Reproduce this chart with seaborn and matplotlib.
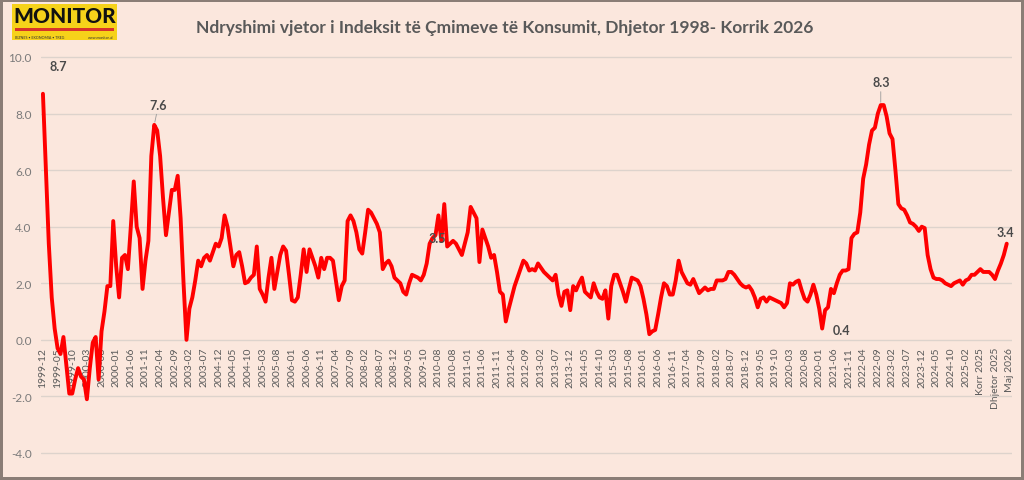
import numpy as np
import pandas as pd
import matplotlib
matplotlib.use("Agg")
import matplotlib.pyplot as plt
import seaborn as sns
from matplotlib.patches import Rectangle
from matplotlib.ticker import FormatStrFormatter

# ndryshimi vjetor i IÇK, mujor (dhjetor 1998 ->)
inflacioni = [
    8.7, 6.0, 3.4, 1.5, 0.4, -0.3, -0.5, 0.1, -0.9, -1.9,
    -1.9, -1.4, -1.0, -1.3, -1.4, -2.1, -1.0, -0.1, 0.1, -1.4,
    0.3, 1.0, 1.9, 1.9, 4.2, 2.6, 1.5, 2.9, 3.0, 2.5,
    4.0, 5.6, 4.0, 3.6, 1.8, 2.8, 3.5, 6.5, 7.6, 7.4,
    6.5, 5.0, 3.7, 4.5, 5.3, 5.3, 5.8, 4.3, 2.0, 0.0,
    1.1, 1.5, 2.1, 2.8, 2.6, 2.9, 3.0, 2.8, 3.1, 3.4,
    3.3, 3.6, 4.4, 4.0, 3.3, 2.6, 3.0, 3.1, 2.6, 2.0,
    2.05, 2.2, 2.3, 3.3, 1.8, 1.6, 1.35, 2.2, 2.9, 1.8,
    2.4, 3.0, 3.3, 3.15, 2.3, 1.4, 1.35, 1.5, 2.3, 3.2,
    2.4, 3.2, 2.9, 2.6, 2.2, 2.9, 2.5, 2.9, 2.9, 2.8,
    2.1, 1.4, 1.9, 2.1, 4.2, 4.4, 4.2, 3.8, 3.2, 3.05,
    3.8, 4.6, 4.5, 4.3, 4.1, 3.8, 2.5, 2.7, 2.8, 2.6,
    2.2, 2.1, 2.0, 1.7, 1.6, 2.0, 2.3, 2.25, 2.2, 2.1,
    2.3, 2.7, 3.4, 3.6, 3.7, 4.4, 3.5, 4.8, 3.3, 3.4,
    3.5, 3.4, 3.2, 3.0, 3.4, 3.8, 4.7, 4.5, 4.3, 2.75,
    3.9, 3.6, 3.3, 2.9, 3.0, 2.4, 1.7, 1.6, 0.65, 1.1,
    1.5, 1.9, 2.2, 2.5, 2.8, 2.7, 2.45, 2.5, 2.45, 2.7,
    2.55, 2.4, 2.3, 2.2, 2.1, 2.3, 1.6, 1.2, 1.7, 1.75,
    1.05, 1.9, 1.75, 2.0, 2.2, 1.7, 1.6, 1.5, 2.0, 1.7,
    1.5, 1.45, 1.75, 0.75, 1.9, 2.3, 2.3, 2.0, 1.7, 1.35,
    1.8, 2.2, 2.15, 2.1, 1.9, 1.45, 0.9, 0.2, 0.3, 0.35,
    0.9, 1.5, 2.0, 1.9, 1.6, 1.6, 2.1, 2.8, 2.4, 2.2,
    2.0, 1.95, 2.15, 1.9, 1.65, 1.75, 1.85, 1.75, 1.8, 1.8,
    2.1, 2.1, 2.1, 2.15, 2.4, 2.4, 2.3, 2.15, 2.0, 1.9,
    1.85, 1.9, 1.75, 1.5, 1.15, 1.45, 1.5, 1.35, 1.5, 1.45,
    1.4, 1.35, 1.3, 1.15, 1.3, 2.0, 1.95, 2.05, 2.1, 1.75,
    1.45, 1.35, 1.6, 1.95, 1.6, 1.1, 0.4, 1.05, 1.15, 1.8,
    1.65, 2.0, 2.3, 2.45, 2.45, 2.5, 3.6, 3.75, 3.8, 4.5,
    5.7, 6.2, 6.9, 7.4, 7.5, 8.0, 8.3, 8.3, 7.9, 7.3,
    7.1, 6.0, 4.8, 4.65, 4.6, 4.4, 4.15, 4.1, 4.0, 3.85,
    4.0, 3.95, 3.0, 2.5, 2.2, 2.15, 2.15, 2.1, 2.0, 1.95,
    1.9, 2.0, 2.05, 2.1, 1.95, 2.1, 2.15, 2.3, 2.3, 2.4,
    2.5, 2.4, 2.4, 2.4, 2.3, 2.15, 2.45, 2.7, 3.0, 3.4,
]

# etiketat e boshtit x (cdo 5 muaj), ashtu si jane ne grafik
etiketat = [
    "1999-12", "1999-05", "1999-10", "2000-03", "2000-08", "2000-01",
    "2001-06", "2001-11", "2002-04", "2002-09", "2003-02", "2003-07",
    "2004-12", "2004-05", "2004-10", "2005-03", "2005-08", "2006-01",
    "2006-06", "2006-11", "2007-04", "2007-09", "2008-02", "2008-07",
    "2008-12", "2009-05", "2009-10", "2010-08", "2010-08", "2011-01",
    "2011-06", "2011-11", "2012-04", "2012-09", "2013-02", "2013-07",
    "2013-12", "2014-05", "2014-10", "2015-03", "2015-08", "2016-01",
    "2016-06", "2016-11", "2017-04", "2017-09", "2018-02", "2018-07",
    "2018-12", "2019-05", "2019-10", "2020-03", "2020-08", "2020-01",
    "2021-06", "2021-11", "2022-04", "2022-09", "2023-02", "2023-07",
    "2023-12", "2024-05", "2024-10", "2025-02", "Korr 2025",
    "Dhjetor 2025", "Maj 2026",
]
hapi = 5

# pikat me etikete: (indeksi i muajit, teksti)
shenimet = [(0, "8.7"), (38, "7.6"), (134, "3.5"), (266, "0.4"),
            (286, "8.3"), (329, "3.4")]

df = pd.DataFrame({"muaji": np.arange(len(inflacioni)), "vlera": inflacioni})

sfondi = "#fbe7dd"
gri = "#7a7a7a"
sns.set_style("white")
plt.rcParams["font.family"] = ["Lato", "DejaVu Sans"]

fig = plt.figure(figsize=(10.24, 4.81), dpi=100, facecolor=sfondi,
                 edgecolor="#8a7d76", linewidth=3)
ax = fig.add_axes([0.0405, 0.0503, 0.9475, 0.835], facecolor=sfondi)

sns.lineplot(data=df, x="muaji", y="vlera", color="#ff0000",
             linewidth=2.8, ax=ax, zorder=5)

# boshti x kalon ne 0 (si ne Excel); kjo duhet para etiketave
ax.spines["bottom"].set_position(("data", 0))
for s in ["top", "right", "left", "bottom"]:
    ax.spines[s].set_visible(False)

ax.set_xlim(-0.5, 330.7)
ax.set_ylim(-4.1, 10.1)
ax.set_yticks(np.arange(-4, 10.1, 2))
ax.yaxis.set_major_formatter(FormatStrFormatter("%.1f"))
ax.grid(axis="y", color="#ddd3cc", linewidth=1)
ax.set_axisbelow(True)

ax.set_xticks(np.arange(len(etiketat)) * hapi)
ax.set_xticklabels(etiketat)
ax.tick_params(axis="x", length=0, pad=5, labelsize=7.5, labelcolor="#5a5a5a",
               labelrotation=90)
ax.tick_params(axis="y", length=0, pad=7, labelsize=8.5, labelcolor=gri)
ax.set_xlabel("")
ax.set_ylabel("")

# etiketat e vlerave
zhvendosja = {
    "8.7": (11, 16, None),
    "7.6": (3, 10, True),
    "3.5": (1, -2, None),
    "0.4": (14, -1, None),
    "8.3": (0, 12, True),
    "3.4": (-1, 4, None),
}
for i, tekst in shenimet:
    dx, dy, vije = zhvendosja[tekst]
    ax.annotate(tekst, xy=(i, inflacioni[i]), xytext=(dx, dy),
                textcoords="offset points", ha="center",
                va="bottom" if dy > 0 else "center",
                fontsize=9, fontweight="bold", color="#4a4a4a", zorder=6,
                arrowprops=dict(arrowstyle="-", color="#9a9a9a", lw=0.6,
                                shrinkA=0, shrinkB=2) if vije else None)

fig.text(0.493, 0.942, "Ndryshimi vjetor i Indeksit të Çmimeve të Konsumit, Dhjetor 1998- Korrik 2026",
         ha="center", va="center", fontsize=12.5, fontweight="bold", color="#595959")

# logo MONITOR
fig.patches.append(Rectangle((0.0117, 0.9148), 0.1026, 0.0748,
                             transform=fig.transFigure, facecolor="#f6d21a",
                             edgecolor="none", zorder=0))
fig.patches.append(Rectangle((0.0146, 0.9335), 0.0967, 0.006,
                             transform=fig.transFigure, facecolor="#d8332a",
                             edgecolor="none", zorder=1))
fig.text(0.063, 0.965, "MONITOR", ha="center", va="center", fontsize=15,
         fontweight="black", color="#111111", family=["Lato", "DejaVu Sans"])
fig.text(0.0150, 0.922, "BIZNES • EKONOMIA • TREG", ha="left", va="center",
         fontsize=2.6, color="#333333")
fig.text(0.1110, 0.922, "www.monitor.al", ha="right", va="center",
         fontsize=2.6, color="#333333")

fig.savefig("out.png", dpi=100, facecolor=sfondi, edgecolor=fig.get_edgecolor())
